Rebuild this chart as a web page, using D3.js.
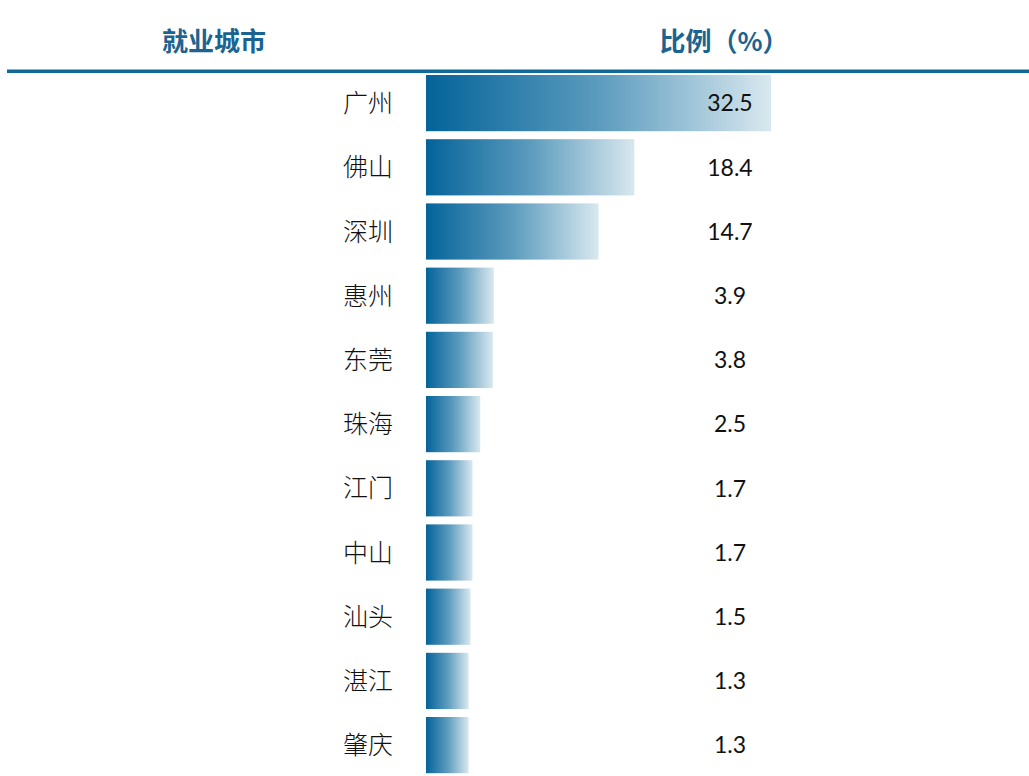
<!DOCTYPE html>
<html>
<head>
<meta charset="utf-8">
<script src="https://cdn.jsdelivr.net/npm/d3@7"></script>
<style>
  body { margin: 0; background: #fff; }
  svg { display: block; }
</style>
</head>
<body>
<div id="chart"></div>
<script>
// data
const cities = ["广州", "佛山", "深圳", "惠州", "东莞", "珠海", "江门", "中山", "汕头", "湛江", "肇庆"];
const shares = [32.5, 18.4, 14.7, 3.9, 3.8, 2.5, 1.7, 1.7, 1.5, 1.3, 1.3];
const headers = ["就业城市", "比例（%）"];

const width = 1029, height = 776;
const barLeft = 426;
const step = 64.2, gap = 8;

const svg = d3.select("#chart").append("svg")
    .attr("width", width)
    .attr("height", height);

const defs = svg.append("defs");
const grad = defs.append("linearGradient")
    .attr("id", "barGrad")
    .attr("x1", "0%").attr("x2", "100%")
    .attr("y1", "0%").attr("y2", "0%");
grad.append("stop").attr("offset", "0%").attr("stop-color", "#04639a");
grad.append("stop").attr("offset", "50%").attr("stop-color", "#5b9bbd");
grad.append("stop").attr("offset", "100%").attr("stop-color", "#d9e8ef");

const rows = cities.map((c, i) => ({ city: c, value: shares[i] }));

// bars have a fixed stub of ~30px, then grow with the value
const x = d3.scaleLinear().domain([0, d3.max(shares)]).range([barLeft + 30, 771]);
const y = d3.scaleBand().domain(cities)
    .range([75, 75 + step * cities.length - gap])
    .paddingInner(gap / step).paddingOuter(0);

// header
svg.selectAll("text.head")
    .data(headers)
    .join("text")
    .attr("class", "head")
    .attr("x", (d, i) => i === 0 ? 214 : 724)
    .attr("y", 51)
    .attr("text-anchor", "middle")
    .attr("font-family", "'Noto Sans CJK SC', sans-serif")
    .attr("font-weight", 700)
    .attr("font-size", 26)
    .attr("fill", "#1b6390")
    .text(d => d);

svg.append("rect")
    .attr("x", 7).attr("y", 69.5)
    .attr("width", width - 7).attr("height", 3.5)
    .attr("fill", "#0f6a98");

// bars
svg.selectAll("rect.bar")
    .data(rows)
    .join("rect")
    .attr("class", "bar")
    .attr("x", barLeft)
    .attr("y", d => y(d.city))
    .attr("width", d => x(d.value) - barLeft)
    .attr("height", y.bandwidth())
    .attr("fill", "url(#barGrad)");

// city labels
svg.selectAll("text.city")
    .data(rows)
    .join("text")
    .attr("class", "city")
    .attr("x", 393)
    .attr("y", d => y(d.city) + y.bandwidth() / 2)
    .attr("dy", "0.36em")
    .attr("text-anchor", "end")
    .attr("font-family", "'Noto Sans CJK SC', sans-serif")
    .attr("font-weight", 300)
    .attr("font-size", 25)
    .attr("fill", "#111")
    .text(d => d.city);

// values
svg.selectAll("text.val")
    .data(rows)
    .join("text")
    .attr("class", "val")
    .attr("x", 730)
    .attr("y", d => y(d.city) + y.bandwidth() / 2)
    .attr("dy", "0.36em")
    .attr("text-anchor", "middle")
    .attr("font-family", "Lato, 'Open Sans', sans-serif")
    .attr("font-size", 23)
    .attr("fill", "#111")
    .text(d => d.value.toFixed(1));
</script>
</body>
</html>
